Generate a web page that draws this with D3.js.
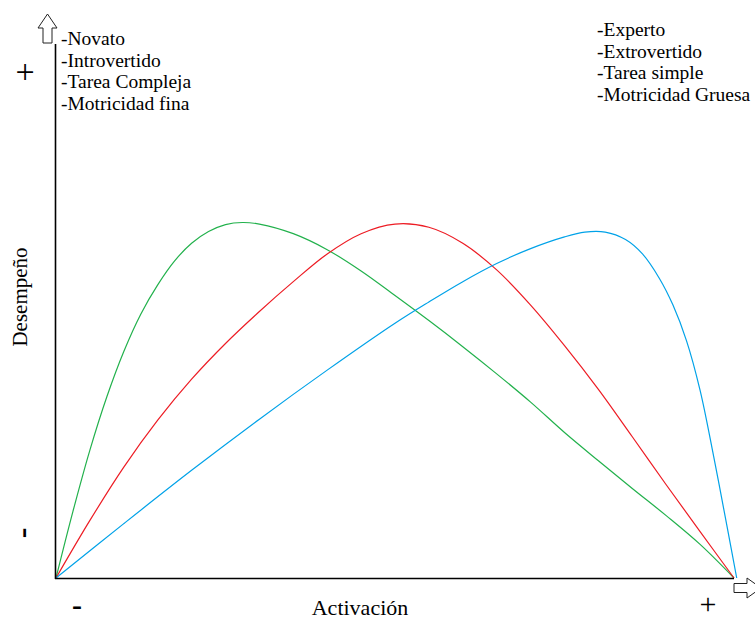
<!DOCTYPE html>
<html>
<head>
<meta charset="utf-8">
<script src="https://cdn.jsdelivr.net/npm/d3@7"></script>
<style>
  html, body { margin: 0; padding: 0; background: #fff; }
  svg { display: block; }
  text { font-family: "Liberation Serif", "Times New Roman", serif; fill: #000; }
</style>
</head>
<body>
<svg id="chart" width="755" height="621"></svg>
<script>
// ---- Data (Activación 0-100, Desempeño 0-100) ----
const greenX = [0, 2.5, 5, 7.5, 10, 12.5, 15, 17.5, 20, 22.5, 25, 27.5, 30, 35, 40, 45, 50, 55, 60, 65, 70, 75, 80, 85, 90, 95, 100];
const greenY = [0, 12.5, 24, 34, 42.5, 49.5, 55, 59.5, 62.8, 65, 66.3, 66.7, 66.4, 64.6, 61.6, 57.6, 53.0, 48.3, 43.4, 38.3, 33.0, 27.3, 22.0, 16.8, 11.7, 6.3, 0];

const redX = [0, 5, 10, 15, 20, 25, 30, 35, 40, 45, 50, 55, 60, 65, 70, 75, 80, 85, 90, 95, 100];
const redY = [0, 10.8, 20.8, 29.6, 37.3, 44.0, 50.0, 55.6, 60.8, 64.6, 66.4, 65.8, 62.8, 57.8, 51.2, 43.6, 35.4, 26.5, 17.5, 8.7, 0];

const blueX = [0, 10, 20, 30, 40, 50, 55, 60, 65, 70, 75, 78, 81, 84, 86.5, 89, 91, 93, 95, 97, 99, 100.4];
const blueY = [0, 10.2, 20.2, 29.8, 39.0, 47.8, 51.8, 55.6, 59.0, 61.8, 64.0, 64.9, 64.9, 63.5, 60.8, 56.2, 51.2, 44.5, 35.2, 22.8, 9.5, 0];

const leftLabels = ["-Novato", "-Introvertido", "-Tarea Compleja", "-Motricidad fina"];
const rightLabels = ["-Experto", "-Extrovertido", "-Tarea simple", "-Motricidad Gruesa"];
const xTitle = "Activación";
const yTitle = "Desempeño";

const seriesColors = ["#22b14c", "#ed1c24", "#00a2e8"];

// ---- Scales ----
const x = d3.scaleLinear().domain([0, 100]).range([56, 734]);
const y = d3.scaleLinear().domain([0, 100]).range([578, 45]);

const svg = d3.select("#chart");

// ---- Curves ----
const line = d3.line().x(d => x(d[0])).y(d => y(d[1])).curve(d3.curveCatmullRom.alpha(0.5));
const series = [
  d3.zip(greenX, greenY),
  d3.zip(redX, redY),
  d3.zip(blueX, blueY)
];
svg.selectAll("path.curve").data(series).join("path")
  .attr("class", "curve")
  .attr("d", line)
  .attr("fill", "none")
  .attr("stroke", (d, i) => seriesColors[i])
  .attr("stroke-width", 1.2);

// ---- Axes ----
svg.append("line")
  .attr("x1", x(0) - 0.5).attr("x2", x(0) - 0.5)
  .attr("y1", y(0) + 1).attr("y2", y(100) - 1)
  .attr("stroke", "#000").attr("stroke-width", 1.6);
svg.append("line")
  .attr("x1", x(0) - 1).attr("x2", x(100))
  .attr("y1", y(0) + 0.5).attr("y2", y(0) + 0.5)
  .attr("stroke", "#000").attr("stroke-width", 1.6);

// Up block arrow
svg.append("path")
  .attr("d", "M47.5,14 L57,28 L52,28 L52,43 L43,43 L43,28 L38,28 Z")
  .attr("fill", "#fff").attr("stroke", "#222").attr("stroke-width", 1);
// Right block arrow
svg.append("path")
  .attr("d", "M734,583.5 L747,583.5 L747,578 L761,588 L747,598 L747,592.5 L734,592.5 Z")
  .attr("fill", "#fff").attr("stroke", "#222").attr("stroke-width", 1);

// ---- Texts ----
svg.selectAll("text.left").data(leftLabels).join("text")
  .attr("class", "left")
  .attr("x", 61).attr("y", (d, i) => 45 + i * 21.5)
  .style("font-size", "19.5px")
  .text(d => d);

svg.selectAll("text.right").data(rightLabels).join("text")
  .attr("class", "right")
  .attr("x", 597).attr("y", (d, i) => 36 + i * 21.5)
  .style("font-size", "19.5px")
  .text(d => d);

svg.append("text")
  .attr("x", 360).attr("y", 615)
  .attr("text-anchor", "middle")
  .style("font-size", "22px")
  .text(xTitle);

svg.append("text")
  .attr("transform", "translate(27,297) rotate(-90)")
  .attr("text-anchor", "middle")
  .style("font-size", "21px")
  .text(yTitle);

// plus / minus markers
svg.append("text")
  .attr("x", 25).attr("y", 83)
  .attr("text-anchor", "middle")
  .style("font-size", "34px")
  .text("+");
svg.append("text")
  .attr("x", 708).attr("y", 614)
  .attr("text-anchor", "middle")
  .style("font-size", "30px")
  .text("+");
svg.append("text")
  .attr("transform", "translate(32,533) rotate(-90)")
  .attr("text-anchor", "middle")
  .style("font-size", "32px").style("font-weight", "bold")
  .text("-");
svg.append("text")
  .attr("x", 77).attr("y", 615)
  .attr("text-anchor", "middle")
  .style("font-size", "30px").style("font-weight", "bold")
  .text("-");
</script>
</body>
</html>
